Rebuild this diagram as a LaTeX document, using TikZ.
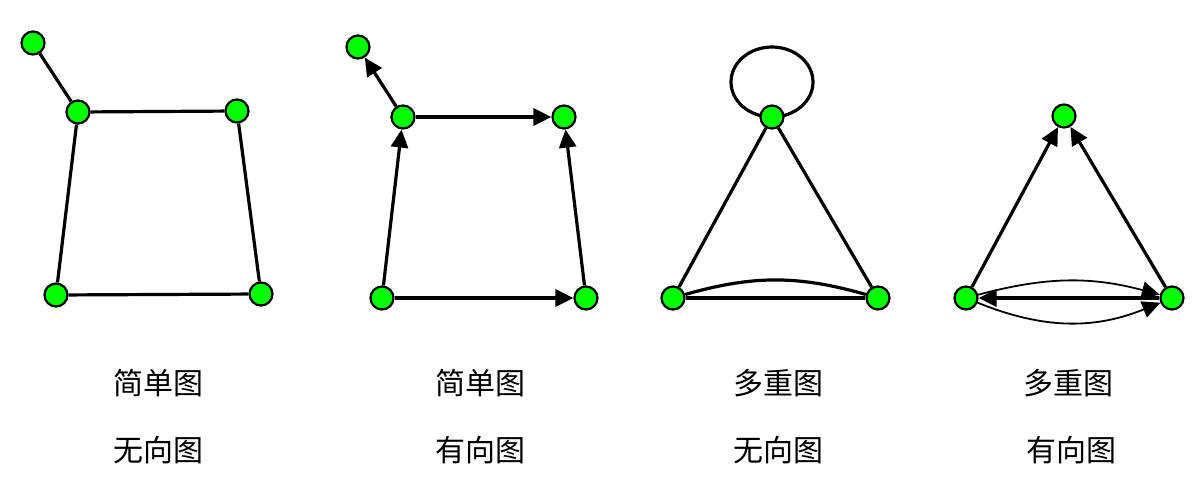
\documentclass[tikz,border=0pt]{standalone}
\usepackage{fontspec}
\newfontfamily\cjk{Noto Sans CJK SC}
\usetikzlibrary{arrows.meta}
\definecolor{vgreen}{HTML}{00FF00}
\tikzset{
  vtx/.style={circle,draw=black,fill=vgreen,line width=2.2pt,minimum size=23pt,inner sep=0pt},
  edg/.style={line width=3.2pt,black},
  thinedg/.style={line width=1.8pt,black},
  arr/.style={-{Triangle[length=18pt,width=17pt]}},
  lbl/.style={font=\cjk\fontsize{30}{36}\selectfont,inner sep=0pt,anchor=center}
}
\begin{document}
\begin{tikzpicture}[x=1pt,y=-1pt]
\useasboundingbox[fill=white] (0,0) rectangle (1203,487);
% ---------- graph 1 : simple undirected ----------
\node[vtx] (a0) at (33,43) {};
\node[vtx] (a1) at (78,112) {};
\node[vtx] (a2) at (237,111) {};
\node[vtx] (a3) at (56,295) {};
\node[vtx] (a4) at (261,294) {};
\draw[edg] (a0) -- (a1);
\draw[edg] (a1) -- (a2);
\draw[edg] (a1) -- (a3);
\draw[edg] (a2) -- (a4);
\draw[edg] (a3) -- (a4);
% ---------- graph 2 : simple directed ----------
\node[vtx] (b0) at (358,47) {};
\node[vtx] (b1) at (403,117) {};
\node[vtx] (b2) at (564,117) {};
\node[vtx] (b3) at (382,298) {};
\node[vtx] (b4) at (586,298) {};
\draw[edg,arr] (b1) -- (b0);
\draw[edg,arr] (b1) -- (b2);
\draw[edg,arr] (b3) -- (b1);
\draw[edg,arr] (b4) -- (b2);
\draw[edg,arr] (b3) -- (b4);
% ---------- graph 3 : multigraph undirected ----------
\draw[edg] (772,82) ellipse [x radius=41, y radius=35];
\node[vtx] (c0) at (772,117) {};
\node[vtx] (c1) at (673,298) {};
\node[vtx] (c2) at (878,298) {};
\draw[edg] (c0) -- (c1);
\draw[edg] (c0) -- (c2);
\draw[edg] (c1) -- (c2);
\draw[edg] (c1) to[bend left=16] (c2);
% ---------- graph 4 : multigraph directed ----------
\node[vtx] (d0) at (1064,116) {};
\node[vtx] (d1) at (966,298) {};
\node[vtx] (d2) at (1172,298) {};
\draw[edg,arr] (d1) -- (d0);
\draw[edg,arr] (d2) -- (d0);
\draw[edg,arr] (d2) -- (d1);
\draw[thinedg,arr] (d1) to[bend left=15] (d2);
\draw[thinedg,arr] (d1) to[bend right=22] (d2);
% ---------- labels ----------
\node[lbl] (t1) at (158,383) {简单图};
\node[lbl] (t2) at (158,450) {无向图};
\node[lbl] (t3) at (480,383) {简单图};
\node[lbl] (t4) at (480,450) {有向图};
\node[lbl] (t5) at (778,383) {多重图};
\node[lbl] (t6) at (778,450) {无向图};
\node[lbl] (t7) at (1068,383) {多重图};
\node[lbl] (t8) at (1071,450) {有向图};
\end{tikzpicture}
\end{document}
